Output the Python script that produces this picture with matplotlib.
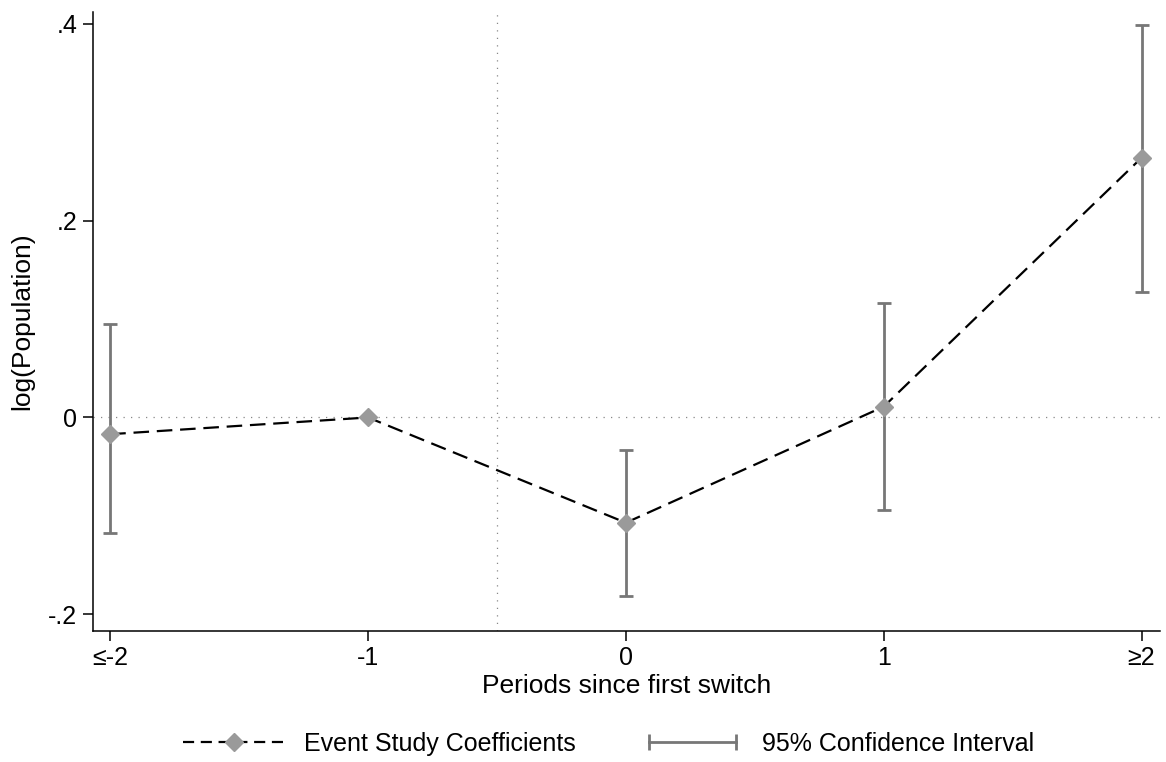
import numpy as np
import matplotlib
matplotlib.use("Agg")
import matplotlib.pyplot as plt
from matplotlib.lines import Line2D
from matplotlib.legend_handler import HandlerLine2D

plt.rcParams['font.family'] = ['Liberation Sans', 'DejaVu Sans']

# Event study estimates
periods = ['≤-2', '-1', '0', '1', '≥2']
coef = [-0.017, 0.0, -0.107, 0.011, 0.264]
ci_low = [-0.117, np.nan, -0.181, -0.094, 0.128]
ci_high = [0.095, np.nan, -0.033, 0.116, 0.399]

ci_color = '#777777'
marker_color = '#9a9a9a'

x = np.arange(len(periods))
coef = np.array(coef)
lo = np.array(ci_low)
hi = np.array(ci_high)

fig = plt.figure(figsize=(11.66, 7.62), dpi=100)
ax = fig.add_axes([0.0795, 0.172, 0.915, 0.812])

# reference lines
ax.axhline(0, color='#888888', lw=0.9, ls=(0, (1, 5)), zorder=1)
ax.axvline(1.5, color='#888888', lw=0.9, ls=(0, (1, 5)), zorder=1)

# confidence intervals
has_ci = ~np.isnan(lo)
ax.errorbar(x[has_ci], coef[has_ci],
            yerr=[coef[has_ci] - lo[has_ci], hi[has_ci] - coef[has_ci]],
            fmt='none', ecolor=ci_color, elinewidth=2.0, capsize=4.8,
            capthick=2.0, zorder=2)

# coefficients
ax.plot(x, coef, color='black', lw=1.6, ls=(0, (7, 3.5)), zorder=3)
ax.plot(x, coef, ls='none', marker='D', markersize=9.5,
        markerfacecolor=marker_color, markeredgecolor=marker_color, zorder=4)

ax.set_xlim(-0.068, 4.07)
ax.set_ylim(-0.217, 0.412)
ax.set_xticks(x)
ax.set_xticklabels(periods)
ax.set_yticks([-0.2, 0, 0.2, 0.4])
ax.set_yticklabels(['-.2', '0', '.2', '.4'])

for s in ['top', 'right']:
    ax.spines[s].set_visible(False)
for s in ['left', 'bottom']:
    ax.spines[s].set_linewidth(1.1)
ax.tick_params(axis='both', direction='out', length=7, width=1.1,
               labelsize=18, pad=4)

ax.set_xlabel('Periods since first switch', fontsize=19, labelpad=3)
ax.set_ylabel('log(Population)', fontsize=19, labelpad=10)

# legend
h_coef = Line2D([], [], color='black', lw=1.6, ls=(0, (5, 3)), marker='D',
                markersize=9.5, markerfacecolor=marker_color,
                markeredgecolor=marker_color)
h_ci = Line2D([], [], color=ci_color, lw=2.0, marker='|', markersize=11,
              markeredgewidth=2.0)
fig.legend([h_coef, h_ci], ['Event Study Coefficients', '95% Confidence Interval'],
           loc='center left', bbox_to_anchor=(0.157, 0.024), ncol=2,
           frameon=False, fontsize=18, handlelength=4.1, columnspacing=2.6,
           handletextpad=0.75, borderpad=0, borderaxespad=0,
           handler_map={h_coef: HandlerLine2D(numpoints=1),
                        h_ci: HandlerLine2D(numpoints=2)})

fig.savefig('out.png', dpi=100)
